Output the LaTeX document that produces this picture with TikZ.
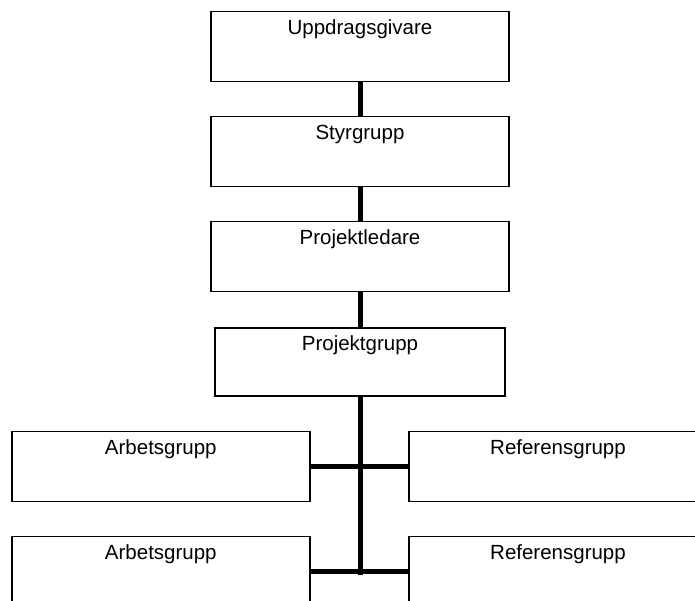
\documentclass[tikz,border=0pt]{standalone}
\usepackage{fontspec}
\setmainfont{Liberation Sans}
\begin{document}
\begin{tikzpicture}[
        x=1pt, y=-1pt,
        unit/.style={draw, line width=1.5pt, minimum width=298pt, inner xsep=0pt, inner ysep=5pt,
            text height=18pt, text depth=42pt, font=\fontsize{20.5}{24}\selectfont},
        link/.style={line width=5pt}
    ]
        \clip (0, 0) rectangle (695, 600);

        % Chain of command
        \node[unit] (upp) at (360, 46.7) {Uppdragsgivare};
        \node[unit] (styr) at (360, 151.6) {Styrgrupp};
        \node[unit] (pl) at (360, 256.7) {Projektledare};
        \node[unit, minimum width=290pt, text depth=40.3pt] (pg) at (360, 362) {Projektgrupp};

        % Groups
        \node[unit] (arb1) at (160.8, 466.7) {Arbetsgrupp};
        \node[unit] (ref1) at (558, 466.7) {Referensgrupp};
        \node[unit] (arb2) at (160.8, 571.7) {Arbetsgrupp};
        \node[unit] (ref2) at (558, 571.7) {Referensgrupp};
        \coordinate (end) at (360, 575);

        % Connectors
        \draw[link] (upp) -- (styr);
        \draw[link] (styr) -- (pl);
        \draw[link] (pl) -- (pg);
        \draw[link] (pg) -- (end);
        \draw[link] (arb1) -- (ref1);
        \draw[link] (arb2) -- (ref2);
    \end{tikzpicture}
\end{document}
